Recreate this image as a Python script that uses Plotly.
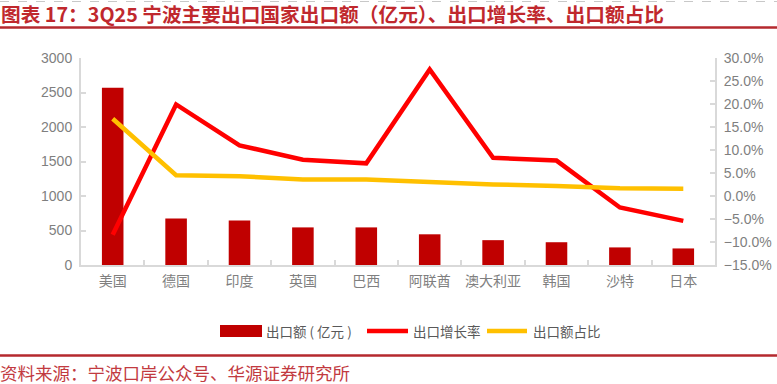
import plotly.graph_objects as go

categories = ["美国", "德国", "印度", "英国", "巴西", "阿联酋", "澳大利亚", "韩国", "沙特", "日本"]
export_value = [2570, 675, 645, 545, 545, 445, 360, 330, 255, 240]
growth_rate = [-8.4, 19.9, 11.0, 7.9, 7.1, 27.5, 8.3, 7.7, -2.5, -5.4]
share = [16.8, 4.5, 4.3, 3.6, 3.6, 3.0, 2.5, 2.2, 1.7, 1.6]
left_ticks = [0, 500, 1000, 1500, 2000, 2500, 3000]
right_ticks = [-15, -10, -5, 0, 5, 10, 15, 20, 25, 30]
right_tick_labels = [f"{v:.1f}%".replace("-", "−") for v in right_ticks]

W, H = 777, 384
L, R, T, B = 81, 62, 58, 119
PW, PH = W - L - R, H - T - B

def px(x):
    return (x - L) / PW

def py(y):
    return (H - B - y) / PH

FONT = "Liberation Sans, Noto Sans CJK SC, sans-serif"
CJK = "Noto Sans CJK SC, sans-serif"
GRAY = "#7F7F7F"

fig = go.Figure()
fig.add_trace(go.Bar(x=categories, y=export_value, name="出口额（亿元）",
                     marker=dict(color="#C00000", line=dict(width=0)), width=0.34,
                     showlegend=False))
fig.add_trace(go.Scatter(x=categories, y=growth_rate, name="出口增长率", yaxis="y2",
                         mode="lines", line=dict(color="#FF0000", width=4.5),
                         showlegend=False))
fig.add_trace(go.Scatter(x=categories, y=share, name="出口额占比", yaxis="y2",
                         mode="lines", line=dict(color="#FFC000", width=4.5),
                         showlegend=False))

fig.update_layout(
    width=W, height=H,
    margin=dict(l=L, r=R, t=T, b=B, autoexpand=False),
    paper_bgcolor="white", plot_bgcolor="white",
    font=dict(family=FONT, size=14, color=GRAY),
    xaxis=dict(type="category", showline=True, linecolor="#D9D9D9", linewidth=2,
               ticks="inside", tickson="boundaries", ticklen=5, tickcolor="#D9D9D9",
               tickwidth=2, showgrid=False, zeroline=False, tickangle=0,
               ticklabelstandoff=2,
               tickfont=dict(family=CJK, size=14, color=GRAY)),
    yaxis=dict(range=[0, 3000], tickvals=left_ticks, showline=True, linecolor="#D9D9D9",
               linewidth=2, ticks="inside", ticklen=5, tickcolor="#D9D9D9", tickwidth=2,
               showgrid=False, zeroline=False, ticklabelstandoff=4,
               tickfont=dict(family=FONT, size=14, color=GRAY)),
    yaxis2=dict(range=[-15, 30], tickmode="array", tickvals=right_ticks,
                ticktext=right_tick_labels, overlaying="y", side="right",
                showline=True, linecolor="#D9D9D9",
                linewidth=2, ticks="inside", ticklen=5, tickcolor="#D9D9D9", tickwidth=2,
                showgrid=False, zeroline=False, ticklabelstandoff=4,
                tickfont=dict(family=FONT, size=14, color=GRAY)),
)

shapes = []
annotations = []
# top dashed line
shapes.append(dict(type="line", xref="paper", yref="paper", x0=px(0), x1=px(W),
                   y0=py(1.5), y1=py(1.5), line=dict(color="#C8C8C8", width=1, dash="dash")))
# title underline and footer line
shapes.append(dict(type="line", xref="paper", yref="paper", x0=px(0), x1=px(W),
                   y0=py(27.5), y1=py(27.5), line=dict(color="#B5292E", width=2.5)))
shapes.append(dict(type="line", xref="paper", yref="paper", x0=px(0), x1=px(W),
                   y0=py(355.5), y1=py(355.5), line=dict(color="#B5292E", width=2.5)))
annotations.append(dict(xref="paper", yref="paper", x=px(-1), y=py(14), xanchor="left",
                        yanchor="middle", showarrow=False,
                        text="<b>图表 17：3Q25 宁波主要出口国家出口额（亿元）、出口增长率、出口额占比</b>",
                        font=dict(family=CJK, size=19.7, color="#C0282D")))
annotations.append(dict(xref="paper", yref="paper", x=px(-2), y=py(372.5), xanchor="left",
                        yanchor="middle", showarrow=False,
                        text="资料来源：宁波口岸公众号、华源证券研究所",
                        font=dict(family=CJK, size=17.5, color="#C23A40")))

# custom legend
ly = 331
shapes.append(dict(type="rect", xref="paper", yref="paper", x0=px(220), x1=px(262),
                   y0=py(ly - 6), y1=py(ly + 6), fillcolor="#C00000", line=dict(width=0)))
shapes.append(dict(type="line", xref="paper", yref="paper", x0=px(367), x1=px(408),
                   y0=py(ly), y1=py(ly), line=dict(color="#FF0000", width=4.5)))
shapes.append(dict(type="line", xref="paper", yref="paper", x0=px(487), x1=px(527),
                   y0=py(ly), y1=py(ly), line=dict(color="#FFC000", width=4.5)))
for x0, t in [(264, "出口额 ( 亿元 )"), (411, "出口增长率"), (531, "出口额占比")]:
    annotations.append(dict(xref="paper", yref="paper", x=px(x0), y=py(ly), xanchor="left",
                            yanchor="middle", showarrow=False, text=t,
                            font=dict(family=CJK, size=13.5, color="#595959")))

fig.update_layout(shapes=shapes, annotations=annotations)
fig.write_html("out.html", config={"displayModeBar": False},
               post_script="document.body.style.margin='0';document.body.style.padding='0';")
